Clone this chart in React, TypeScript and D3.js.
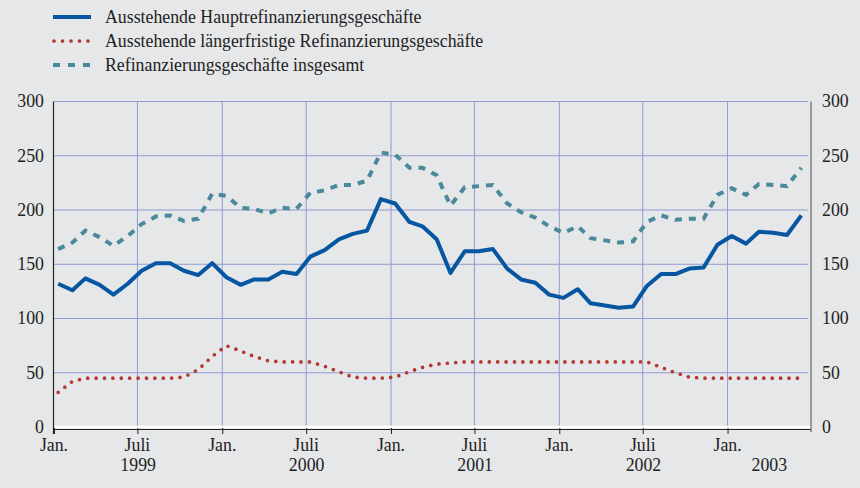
import * as d3 from 'd3';

// Monatswerte Jan. 1999 – Juni 2003 (Mrd Euro)
const startMonth = new Date(1999, 0, 1);
const endMonth = new Date(2003, 6, 1);

const hauptrefi = [
  132, 126, 137, 131, 122, 132, 144, 151, 151, 144, 140, 151,
  138, 131, 136, 136, 143, 141, 157, 163, 173, 178, 181, 210,
  206, 189, 185, 173, 142, 162, 162, 164, 146, 136, 133, 122,
  119, 127, 114, 112, 110, 111, 130, 141, 141, 146, 147, 168,
  176, 169, 180, 179, 177, 195,
];
const laengerfristig = [
  32, 42, 45, 45, 45, 45, 45, 45, 45, 46, 53, 65,
  75, 70, 65, 61, 60, 60, 60, 56, 51, 46, 45, 45,
  46, 51, 55, 58, 59, 60, 60, 60, 60, 60, 60, 60,
  60, 60, 60, 60, 60, 60, 60, 55, 50, 46, 45, 45,
  45, 45, 45, 45, 45, 45,
];
const insgesamt = [
  164, 170, 181, 175, 167, 176, 187, 194, 195, 190, 192, 215,
  213, 202, 201, 197, 202, 201, 216, 218, 223, 223, 227, 253,
  251, 239, 239, 232, 204, 221, 222, 223, 206, 198, 193, 185,
  179, 185, 174, 172, 170, 171, 189, 195, 191, 192, 192, 214,
  220, 214, 224, 223, 222, 239,
];

const seriesNames = [
  'Ausstehende Hauptrefinanzierungsgeschäfte',
  'Ausstehende längerfristige Refinanzierungsgeschäfte',
  'Refinanzierungsgeschäfte insgesamt',
];
const yTicks = [0, 50, 100, 150, 200, 250, 300];
const xTickLabels = ['Jan.', 'Juli'];
const yearLabels = ['1999', '2000', '2001', '2002', '2003'];

const BG = '#e6e7e9';
const GRID = '#8f9bd2';
const BLUE = '#0756a1';
const RED = '#b3382e';
const TEAL = '#4a8999';
const TEXT = '#222';
const txt = { fontFamily: "'Liberation Serif'", fontSize: '17.8px' };

export default function App() {
  const width = 860;
  const height = 488;

  const x = d3.scaleTime().domain([startMonth, endMonth]).range([54, 811]);
  const y = d3.scaleLinear().domain([0, 300]).range([427, 101.5]);

  // Datenpunkte jeweils um den 10. des Monats
  const dates = d3.timeMonth.range(startMonth, endMonth).map(d => new Date(d.getFullYear(), d.getMonth(), 10));

  const line = d3.line<number>()
    .x((_, i) => x(dates[i]))
    .y(d => y(d));

  const halfYears = d3.timeMonth.every(6)!.range(startMonth, new Date(2003, 1, 1));
  const years = yearLabels.map(l => {
    const a = new Date(+l, 0, 1);
    const b = +l === 2003 ? endMonth : new Date(+l + 1, 0, 1);
    return { label: l, pos: (x(a) + x(b)) / 2 };
  });

  const legendY = [17, 41, 65];

  return (
    <svg width={width} height={height} style={{ position: 'absolute', left: 0, top: 0, display: 'block' }}>
      <rect width={width} height={height} fill={BG} />

      {/* Legende */}
      <g>
        <line x1={53} x2={91} y1={legendY[0]} y2={legendY[0]} stroke={BLUE} strokeWidth={4} />
        <line x1={54} x2={92} y1={legendY[1]} y2={legendY[1]} stroke={RED} strokeWidth={3.7}
          strokeDasharray="0 8.5" strokeLinecap="round" />
        <line x1={53} x2={91} y1={legendY[2]} y2={legendY[2]} stroke={TEAL} strokeWidth={4}
          strokeDasharray="7 8" />
        {seriesNames.map((n, i) => (
          <text key={n} x={105} y={legendY[i]} dy="0.33em" style={txt} fill={TEXT}>{n}</text>
        ))}
      </g>

      {/* Gitter */}
      <g>
        {yTicks.filter(t => t > 0).map(t => (
          <line key={t} x1={54} x2={808} y1={y(t)} y2={y(t)} stroke={GRID} strokeWidth={1} />
        ))}
        {halfYears.filter(d => d > startMonth).map(d => (
          <line key={+d} x1={x(d)} x2={x(d)} y1={y(300)} y2={y(0)} stroke={GRID} strokeWidth={1} />
        ))}
      </g>

      {/* Reihen */}
      <path d={line(laengerfristig) || ''} fill="none" stroke={RED} strokeWidth={3.7}
        strokeDasharray="0 8.4" strokeLinecap="round" />
      <path d={line(insgesamt) || ''} fill="none" stroke={TEAL} strokeWidth={4}
        strokeDasharray="7 7" />
      <path d={line(hauptrefi) || ''} fill="none" stroke={BLUE} strokeWidth={4} strokeLinejoin="round" />

      {/* Achsen */}
      <line x1={53} x2={811} y1={y(0)} y2={y(0)} stroke="#fff" strokeWidth={2.5} />
      <line x1={53} x2={811} y1={429.5} y2={429.5} stroke="#222" strokeWidth={1} />
      <line x1={53.5} x2={53.5} y1={y(300)} y2={434} stroke="#222" strokeWidth={1.2} />
      <line x1={811} x2={811} y1={y(300)} y2={432} stroke="#666" strokeWidth={1.2} />
      {halfYears.map(d => (
        <line key={+d} x1={x(d) + 0.5} x2={x(d) + 0.5} y1={428} y2={434} stroke="#222" strokeWidth={1} />
      ))}

      {yTicks.map(t => (
        <g key={t}>
          <text x={44} y={y(t)} dy="0.33em" textAnchor="end" style={txt} fill={TEXT}>{t}</text>
          <text x={822} y={y(t)} dy="0.33em" textAnchor="start" style={txt} fill={TEXT}>{t}</text>
        </g>
      ))}

      {halfYears.map((d, i) => (
        <text key={+d} x={x(d)} y={451} textAnchor="middle" style={txt} fill={TEXT}>
          {xTickLabels[i % 2]}
        </text>
      ))}
      {years.map(yr => (
        <text key={yr.label} x={yr.pos} y={471} textAnchor="middle" style={txt} fill={TEXT}>{yr.label}</text>
      ))}
    </svg>
  );
}
